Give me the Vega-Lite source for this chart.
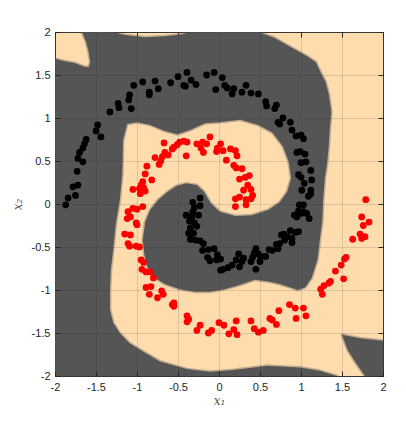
{
  "$schema": "https://vega.github.io/schema/vega-lite/v6.json",
  "width": 328,
  "height": 344,
  "autosize": "none",
  "padding": {"left": 55, "top": 32, "right": 23, "bottom": 47},
  "background": "white",
  "config": {
    "view": {"stroke": "#3a3a3a", "strokeWidth": 1, "fill": "#FFDCAE"}
  },
  "datasets": {
    "shapes": [
      {"id":"m","i":1,"x":-2,"y":-2},{"id":"m","i":2,"x":-2,"y":1.69},{"id":"m","i":3,"x":-1.88,"y":1.66},{"id":"m","i":4,"x":-1.76,"y":1.64},{"id":"m","i":5,"x":-1.65,"y":1.6},{"id":"m","i":6,"x":-1.59,"y":1.59},{"id":"m","i":7,"x":-1.57,"y":1.65},{"id":"m","i":8,"x":-1.59,"y":1.77},{"id":"m","i":9,"x":-1.62,"y":1.88},{"id":"m","i":10,"x":-1.67,"y":2},
      {"id":"m","i":11,"x":-1.29,"y":2},{"id":"m","i":12,"x":-1.15,"y":1.965},{"id":"m","i":13,"x":-0.9,"y":1.94},{"id":"m","i":14,"x":-0.66,"y":1.95},{"id":"m","i":15,"x":-0.45,"y":1.975},{"id":"m","i":16,"x":-0.35,"y":2},{"id":"m","i":17,"x":0.48,"y":2},{"id":"m","i":18,"x":0.68,"y":1.93},{"id":"m","i":19,"x":0.9,"y":1.81},{"id":"m","i":20,"x":1.07,"y":1.72},
      {"id":"m","i":21,"x":1.18,"y":1.65},{"id":"m","i":22,"x":1.24,"y":1.53},{"id":"m","i":23,"x":1.3,"y":1.42},{"id":"m","i":24,"x":1.34,"y":1.27},{"id":"m","i":25,"x":1.37,"y":1.07},{"id":"m","i":26,"x":1.35,"y":0.87},{"id":"m","i":27,"x":1.34,"y":0.69},{"id":"m","i":28,"x":1.32,"y":0.49},{"id":"m","i":29,"x":1.29,"y":0.29},{"id":"m","i":30,"x":1.27,"y":0.05},
      {"id":"m","i":31,"x":1.26,"y":-0.19},{"id":"m","i":32,"x":1.23,"y":-0.42},{"id":"m","i":33,"x":1.2,"y":-0.65},{"id":"m","i":34,"x":1.13,"y":-0.86},{"id":"m","i":35,"x":1.05,"y":-0.97},{"id":"m","i":36,"x":0.96,"y":-1.0},{"id":"m","i":37,"x":0.87,"y":-0.97},{"id":"m","i":38,"x":0.74,"y":-0.93},{"id":"m","i":39,"x":0.6,"y":-0.9},{"id":"m","i":40,"x":0.44,"y":-0.88},
      {"id":"m","i":41,"x":0.26,"y":-0.94},{"id":"m","i":42,"x":0.07,"y":-0.99},{"id":"m","i":43,"x":-0.11,"y":-1.02},{"id":"m","i":44,"x":-0.29,"y":-1.02},{"id":"m","i":45,"x":-0.48,"y":-0.99},{"id":"m","i":46,"x":-0.66,"y":-0.93},{"id":"m","i":47,"x":-0.78,"y":-0.86},{"id":"m","i":48,"x":-0.87,"y":-0.74},{"id":"m","i":49,"x":-0.91,"y":-0.59},{"id":"m","i":50,"x":-0.93,"y":-0.42},
      {"id":"m","i":51,"x":-0.9,"y":-0.21},{"id":"m","i":52,"x":-0.84,"y":-0.07},{"id":"m","i":53,"x":-0.74,"y":0.05},{"id":"m","i":54,"x":-0.63,"y":0.14},{"id":"m","i":55,"x":-0.52,"y":0.21},{"id":"m","i":56,"x":-0.4,"y":0.24},{"id":"m","i":57,"x":-0.27,"y":0.22},{"id":"m","i":58,"x":-0.18,"y":0.14},{"id":"m","i":59,"x":-0.1,"y":0.01},{"id":"m","i":60,"x":0.01,"y":-0.09},
      {"id":"m","i":61,"x":0.2,"y":-0.14},{"id":"m","i":62,"x":0.4,"y":-0.13},{"id":"m","i":63,"x":0.6,"y":-0.07},{"id":"m","i":64,"x":0.74,"y":0.02},{"id":"m","i":65,"x":0.83,"y":0.14},{"id":"m","i":66,"x":0.88,"y":0.3},{"id":"m","i":67,"x":0.85,"y":0.49},{"id":"m","i":68,"x":0.78,"y":0.67},{"id":"m","i":69,"x":0.65,"y":0.83},{"id":"m","i":70,"x":0.48,"y":0.92},
      {"id":"m","i":71,"x":0.26,"y":0.98},{"id":"m","i":72,"x":0.01,"y":0.95},{"id":"m","i":73,"x":-0.17,"y":0.94},{"id":"m","i":74,"x":-0.35,"y":0.86},{"id":"m","i":75,"x":-0.51,"y":0.81},{"id":"m","i":76,"x":-0.66,"y":0.85},{"id":"m","i":77,"x":-0.84,"y":0.92},{"id":"m","i":78,"x":-1.0,"y":0.95},{"id":"m","i":79,"x":-1.12,"y":0.93},{"id":"m","i":80,"x":-1.17,"y":0.74},
      {"id":"m","i":81,"x":-1.18,"y":0.34},{"id":"m","i":82,"x":-1.21,"y":0.05},{"id":"m","i":83,"x":-1.26,"y":-0.24},{"id":"m","i":84,"x":-1.29,"y":-0.53},{"id":"m","i":85,"x":-1.32,"y":-0.77},{"id":"m","i":86,"x":-1.33,"y":-1.0},{"id":"m","i":87,"x":-1.33,"y":-1.23},{"id":"m","i":88,"x":-1.29,"y":-1.38},{"id":"m","i":89,"x":-1.21,"y":-1.5},{"id":"m","i":90,"x":-1.09,"y":-1.62},
      {"id":"m","i":91,"x":-0.9,"y":-1.73},{"id":"m","i":92,"x":-0.72,"y":-1.83},{"id":"m","i":93,"x":-0.39,"y":-1.92},{"id":"m","i":94,"x":-0.11,"y":-1.95},{"id":"m","i":95,"x":0.17,"y":-1.93},{"id":"m","i":96,"x":0.59,"y":-1.88},{"id":"m","i":97,"x":0.99,"y":-1.9},{"id":"m","i":98,"x":1.23,"y":-1.94},{"id":"m","i":99,"x":1.44,"y":-2},
      {"id":"t","i":1,"x":1.5,"y":-1.52},{"id":"t","i":2,"x":1.72,"y":-1.56},{"id":"t","i":3,"x":2,"y":-1.59},{"id":"t","i":4,"x":2,"y":-2},{"id":"t","i":5,"x":1.78,"y":-2},{"id":"t","i":6,"x":1.67,"y":-1.85},{"id":"t","i":7,"x":1.57,"y":-1.7}
    ],
    "pts": [
      {"c":"b","x":-1.87,"y":-0.01},{"c":"b","x":-1.84,"y":0.07},{"c":"b","x":-1.75,"y":0.1},{"c":"b","x":-1.78,"y":0.2},{"c":"b","x":-1.72,"y":0.22},{"c":"b","x":-1.73,"y":0.38},{"c":"b","x":-1.66,"y":0.49},{"c":"b","x":-1.72,"y":0.53},{"c":"b","x":-1.7,"y":0.6},{"c":"b","x":-1.66,"y":0.65},
      {"c":"b","x":-1.64,"y":0.7},{"c":"b","x":-1.62,"y":0.75},{"c":"b","x":-1.44,"y":0.78},{"c":"b","x":-1.5,"y":0.85},{"c":"b","x":-1.48,"y":0.92},{"c":"b","x":-1.33,"y":1.07},{"c":"b","x":-1.23,"y":1.17},{"c":"b","x":-1.22,"y":1.12},{"c":"b","x":-1.09,"y":1.27},{"c":"b","x":-1.1,"y":1.21},
      {"c":"b","x":-1.07,"y":1.11},{"c":"b","x":-1.04,"y":1.38},{"c":"b","x":-0.93,"y":1.42},{"c":"b","x":-0.85,"y":1.3},{"c":"b","x":-0.85,"y":1.27},{"c":"b","x":-0.78,"y":1.43},{"c":"b","x":-0.74,"y":1.34},{"c":"b","x":-0.59,"y":1.41},{"c":"b","x":-0.5,"y":1.48},{"c":"b","x":-0.39,"y":1.53},
      {"c":"b","x":-0.43,"y":1.38},{"c":"b","x":-0.41,"y":1.37},{"c":"b","x":-0.34,"y":1.44},{"c":"b","x":-0.28,"y":1.39},{"c":"b","x":-0.15,"y":1.5},{"c":"b","x":-0.06,"y":1.53},{"c":"b","x":-0.04,"y":1.33},{"c":"b","x":0.04,"y":1.47},{"c":"b","x":0.07,"y":1.38},{"c":"b","x":0.1,"y":1.35},
      {"c":"b","x":0.18,"y":1.34},{"c":"b","x":0.16,"y":1.28},{"c":"b","x":0.28,"y":1.3},{"c":"b","x":0.33,"y":1.38},{"c":"b","x":0.39,"y":1.29},{"c":"b","x":0.48,"y":1.28},{"c":"b","x":0.57,"y":1.19},{"c":"b","x":0.58,"y":1.14},{"c":"b","x":0.7,"y":1.15},{"c":"b","x":0.68,"y":1.11},
      {"c":"b","x":0.78,"y":1.0},{"c":"b","x":0.72,"y":0.95},{"c":"b","x":0.74,"y":0.93},{"c":"b","x":0.87,"y":0.95},{"c":"b","x":0.89,"y":0.86},{"c":"b","x":0.94,"y":0.79},{"c":"b","x":1.0,"y":0.8},{"c":"b","x":1.03,"y":0.76},{"c":"b","x":0.95,"y":0.6},{"c":"b","x":0.99,"y":0.61},
      {"c":"b","x":1.05,"y":0.58},{"c":"b","x":1.06,"y":0.49},{"c":"b","x":1.0,"y":0.48},{"c":"b","x":1.12,"y":0.39},{"c":"b","x":0.97,"y":0.34},{"c":"b","x":1.0,"y":0.31},{"c":"b","x":1.04,"y":0.24},{"c":"b","x":1.13,"y":0.28},{"c":"b","x":1.12,"y":0.16},{"c":"b","x":1.01,"y":0.16},
      {"c":"b","x":1.12,"y":0.12},{"c":"b","x":1.09,"y":0.09},{"c":"b","x":1.03,"y":-0.01},{"c":"b","x":0.98,"y":-0.01},{"c":"b","x":0.97,"y":-0.08},{"c":"b","x":1.03,"y":-0.09},{"c":"b","x":0.92,"y":-0.13},{"c":"b","x":1.0,"y":-0.11},{"c":"b","x":1.07,"y":-0.11},{"c":"b","x":1.1,"y":-0.17},
      {"c":"b","x":0.95,"y":-0.15},{"c":"b","x":0.87,"y":-0.31},{"c":"b","x":0.93,"y":-0.33},{"c":"b","x":0.97,"y":-0.32},{"c":"b","x":0.79,"y":-0.35},{"c":"b","x":0.83,"y":-0.38},{"c":"b","x":0.89,"y":-0.4},{"c":"b","x":0.76,"y":-0.36},{"c":"b","x":0.8,"y":-0.42},{"c":"b","x":0.89,"y":-0.45},
      {"c":"b","x":0.74,"y":-0.46},{"c":"b","x":0.7,"y":-0.47},{"c":"b","x":0.72,"y":-0.52},{"c":"b","x":0.65,"y":-0.54},{"c":"b","x":0.61,"y":-0.53},{"c":"b","x":0.57,"y":-0.61},{"c":"b","x":0.51,"y":-0.61},{"c":"b","x":0.48,"y":-0.58},{"c":"b","x":0.45,"y":-0.52},{"c":"b","x":0.43,"y":-0.57},
      {"c":"b","x":0.41,"y":-0.62},{"c":"b","x":0.39,"y":-0.67},{"c":"b","x":0.45,"y":-0.76},{"c":"b","x":0.5,"y":-0.67},{"c":"b","x":0.3,"y":-0.63},{"c":"b","x":0.24,"y":-0.58},{"c":"b","x":0.28,"y":-0.67},{"c":"b","x":0.25,"y":-0.73},{"c":"b","x":0.21,"y":-0.65},{"c":"b","x":0.16,"y":-0.71},
      {"c":"b","x":0.11,"y":-0.74},{"c":"b","x":0.05,"y":-0.76},{"c":"b","x":0.02,"y":-0.64},{"c":"b","x":-0.03,"y":-0.65},{"c":"b","x":0.02,"y":-0.77},{"c":"b","x":-0.02,"y":-0.59},{"c":"b","x":-0.06,"y":-0.52},{"c":"b","x":-0.13,"y":-0.53},{"c":"b","x":-0.14,"y":-0.62},{"c":"b","x":-0.11,"y":-0.66},
      {"c":"b","x":-0.2,"y":-0.54},{"c":"b","x":-0.19,"y":-0.46},{"c":"b","x":-0.23,"y":-0.43},{"c":"b","x":-0.29,"y":-0.42},{"c":"b","x":-0.35,"y":-0.41},{"c":"b","x":-0.31,"y":-0.34},{"c":"b","x":-0.37,"y":-0.34},{"c":"b","x":-0.35,"y":-0.28},{"c":"b","x":-0.27,"y":-0.26},{"c":"b","x":-0.4,"y":-0.13},
      {"c":"b","x":-0.33,"y":-0.15},{"c":"b","x":-0.25,"y":-0.13},{"c":"b","x":-0.32,"y":0.02},{"c":"b","x":-0.23,"y":-0.02},{"c":"b","x":-0.3,"y":-0.04},{"c":"b","x":-0.23,"y":0.07},{"c":"b","x":-0.32,"y":-0.09},{"c":"b","x":-0.36,"y":-0.2},{"c":"b","x":-0.3,"y":-0.22},
      {"c":"r","x":1.79,"y":0.05},{"c":"r","x":1.74,"y":-0.15},{"c":"r","x":1.83,"y":-0.21},{"c":"r","x":1.76,"y":-0.25},{"c":"r","x":1.72,"y":-0.35},{"c":"r","x":1.74,"y":-0.4},{"c":"r","x":1.78,"y":-0.38},{"c":"r","x":1.63,"y":-0.41},{"c":"r","x":1.55,"y":-0.62},{"c":"r","x":1.53,"y":-0.64},
      {"c":"r","x":1.49,"y":-0.71},{"c":"r","x":1.42,"y":-0.78},{"c":"r","x":1.52,"y":-0.87},{"c":"r","x":1.36,"y":-0.9},{"c":"r","x":1.34,"y":-0.92},{"c":"r","x":1.28,"y":-0.95},{"c":"r","x":1.24,"y":-0.99},{"c":"r","x":1.26,"y":-1.05},{"c":"r","x":1.03,"y":-1.21},{"c":"r","x":1.06,"y":-1.3},
      {"c":"r","x":0.86,"y":-1.17},{"c":"r","x":0.93,"y":-1.21},{"c":"r","x":0.94,"y":-1.33},{"c":"r","x":0.73,"y":-1.24},{"c":"r","x":0.62,"y":-1.33},{"c":"r","x":0.65,"y":-1.35},{"c":"r","x":0.7,"y":-1.4},{"c":"r","x":0.39,"y":-1.36},{"c":"r","x":0.43,"y":-1.45},{"c":"r","x":0.48,"y":-1.49},
      {"c":"r","x":0.54,"y":-1.47},{"c":"r","x":0.21,"y":-1.36},{"c":"r","x":0.18,"y":-1.46},{"c":"r","x":0.22,"y":-1.52},{"c":"r","x":0.12,"y":-1.51},{"c":"r","x":0.06,"y":-1.41},{"c":"r","x":0.0,"y":-1.38},{"c":"r","x":-0.09,"y":-1.47},{"c":"r","x":-0.13,"y":-1.5},{"c":"r","x":-0.23,"y":-1.41},
      {"c":"r","x":-0.27,"y":-1.47},{"c":"r","x":-0.39,"y":-1.3},{"c":"r","x":-0.37,"y":-1.34},{"c":"r","x":-0.39,"y":-1.37},{"c":"r","x":-0.57,"y":-1.17},{"c":"r","x":-0.55,"y":-1.19},{"c":"r","x":-0.55,"y":-1.15},{"c":"r","x":-0.7,"y":-1.01},{"c":"r","x":-0.68,"y":-1.05},{"c":"r","x":-0.75,"y":-1.09},
      {"c":"r","x":-0.89,"y":-0.97},{"c":"r","x":-0.83,"y":-0.96},{"c":"r","x":-0.85,"y":-1.05},{"c":"r","x":-0.8,"y":-0.86},{"c":"r","x":-0.89,"y":-0.79},{"c":"r","x":-0.84,"y":-0.79},{"c":"r","x":-0.94,"y":-0.76},{"c":"r","x":-0.92,"y":-0.68},{"c":"r","x":-0.95,"y":-0.65},{"c":"r","x":-0.97,"y":-0.5},
      {"c":"r","x":-1.01,"y":-0.49},{"c":"r","x":-1.09,"y":-0.49},{"c":"r","x":-1.11,"y":-0.46},{"c":"r","x":-1.15,"y":-0.35},{"c":"r","x":-1.08,"y":-0.36},{"c":"r","x":-1.0,"y":-0.24},{"c":"r","x":-1.01,"y":-0.22},{"c":"r","x":-1.12,"y":-0.17},{"c":"r","x":-1.08,"y":-0.15},{"c":"r","x":-1.11,"y":-0.09},
      {"c":"r","x":-1.05,"y":-0.05},{"c":"r","x":-1.0,"y":-0.06},{"c":"r","x":-0.93,"y":-0.03},{"c":"r","x":-0.96,"y":0.12},{"c":"r","x":-0.9,"y":0.15},{"c":"r","x":-0.92,"y":0.19},{"c":"r","x":-0.97,"y":0.18},{"c":"r","x":-0.95,"y":0.22},{"c":"r","x":-1.05,"y":0.17},{"c":"r","x":-0.93,"y":0.26},
      {"c":"r","x":-0.82,"y":0.28},{"c":"r","x":-0.9,"y":0.35},{"c":"r","x":-0.88,"y":0.44},{"c":"r","x":-0.73,"y":0.46},{"c":"r","x":-0.71,"y":0.5},{"c":"r","x":-0.78,"y":0.54},{"c":"r","x":-0.69,"y":0.55},{"c":"r","x":-0.62,"y":0.57},{"c":"r","x":-0.66,"y":0.6},{"c":"r","x":-0.57,"y":0.64},
      {"c":"r","x":-0.55,"y":0.66},{"c":"r","x":-0.51,"y":0.69},{"c":"r","x":-0.67,"y":0.71},{"c":"r","x":-0.48,"y":0.72},{"c":"r","x":-0.43,"y":0.73},{"c":"r","x":-0.39,"y":0.72},{"c":"r","x":-0.4,"y":0.56},{"c":"r","x":-0.27,"y":0.7},{"c":"r","x":-0.2,"y":0.72},{"c":"r","x":-0.15,"y":0.7},
      {"c":"r","x":-0.11,"y":0.78},{"c":"r","x":-0.22,"y":0.65},{"c":"r","x":-0.19,"y":0.6},{"c":"r","x":-0.02,"y":0.65},{"c":"r","x":-0.03,"y":0.61},{"c":"r","x":0.02,"y":0.7},{"c":"r","x":0.05,"y":0.62},{"c":"r","x":0.09,"y":0.51},{"c":"r","x":0.14,"y":0.64},{"c":"r","x":0.2,"y":0.62},
      {"c":"r","x":0.22,"y":0.56},{"c":"r","x":0.18,"y":0.45},{"c":"r","x":0.21,"y":0.42},{"c":"r","x":0.28,"y":0.41},{"c":"r","x":0.32,"y":0.31},{"c":"r","x":0.25,"y":0.29},{"c":"r","x":0.37,"y":0.33},{"c":"r","x":0.35,"y":0.22},{"c":"r","x":0.39,"y":0.17},{"c":"r","x":0.41,"y":0.1},
      {"c":"r","x":0.3,"y":0.16},{"c":"r","x":0.25,"y":0.08},{"c":"r","x":0.2,"y":0.06},{"c":"r","x":0.33,"y":0.05},{"c":"r","x":0.39,"y":0.06},{"c":"r","x":0.2,"y":-0.03},{"c":"r","x":0.33,"y":-0.01}
    ]
  },
  "layer": [
    {
      "data": {"name": "shapes"},
      "mark": {"type": "line", "fill": "#555555", "stroke": "#555555", "strokeWidth": 3, "strokeOpacity": 0.35, "strokeJoin": "round", "interpolate": "linear-closed", "clip": true},
      "encoding": {
        "x": {"field": "x", "type": "quantitative", "scale": {"domain": [-2, 2], "nice": false, "zero": false},
          "axis": {"values": [-2, -1.5, -1, -0.5, 0, 0.5, 1, 1.5, 2], "format": "~g", "labelExpr": "replace(datum.label, '\u2212', '-')",
            "title": "x\u2081", "titleFont": "DejaVu Serif", "titleFontStyle": "italic", "titleFontWeight": "normal", "titleFontSize": 12, "titleColor": "#555555", "titlePadding": 3,
            "labelFont": "Liberation Sans", "labelFontSize": 11, "labelColor": "#262626", "labelPadding": 10, "labelFlush": false,
            "tickSize": -5, "tickColor": "#262626", "domain": false, "grid": true, "gridColor": "#262626", "gridOpacity": 0.15, "zindex": 1}},
        "y": {"field": "y", "type": "quantitative", "scale": {"domain": [-2, 2], "nice": false, "zero": false},
          "axis": {"values": [-2, -1.5, -1, -0.5, 0, 0.5, 1, 1.5, 2], "format": "~g", "labelExpr": "replace(datum.label, '\u2212', '-')",
            "title": "x\u2082", "titleFont": "DejaVu Serif", "titleFontStyle": "italic", "titleFontWeight": "normal", "titleFontSize": 12, "titleColor": "#555555", "titlePadding": 7,
            "labelFont": "Liberation Sans", "labelFontSize": 11, "labelColor": "#262626", "labelPadding": 10, "labelFlush": false,
            "tickSize": -5, "tickColor": "#262626", "domain": false, "grid": true, "gridColor": "#262626", "gridOpacity": 0.15, "zindex": 1}},
        "detail": {"field": "id", "type": "nominal"},
        "order": {"field": "i", "type": "quantitative"}
      }
    },
    {
      "data": {"name": "pts"},
      "mark": {"type": "circle", "size": 46, "opacity": 1, "clip": true},
      "encoding": {
        "x": {"field": "x", "type": "quantitative",
          "axis": {"orient": "top", "values": [-2, -1.5, -1, -0.5, 0, 0.5, 1, 1.5, 2], "labels": false, "title": null, "grid": false, "domain": false, "tickSize": -5, "tickColor": "#262626"}},
        "y": {"field": "y", "type": "quantitative",
          "axis": {"orient": "right", "values": [-2, -1.5, -1, -0.5, 0, 0.5, 1, 1.5, 2], "labels": false, "title": null, "grid": false, "domain": false, "tickSize": -5, "tickColor": "#262626"}},
        "color": {"field": "c", "type": "nominal", "scale": {"domain": ["b", "r"], "range": ["#000000", "#FF0000"]}, "legend": null}
      }
    }
  ],
  "resolve": {"axis": {"x": "independent", "y": "independent"}}
}
